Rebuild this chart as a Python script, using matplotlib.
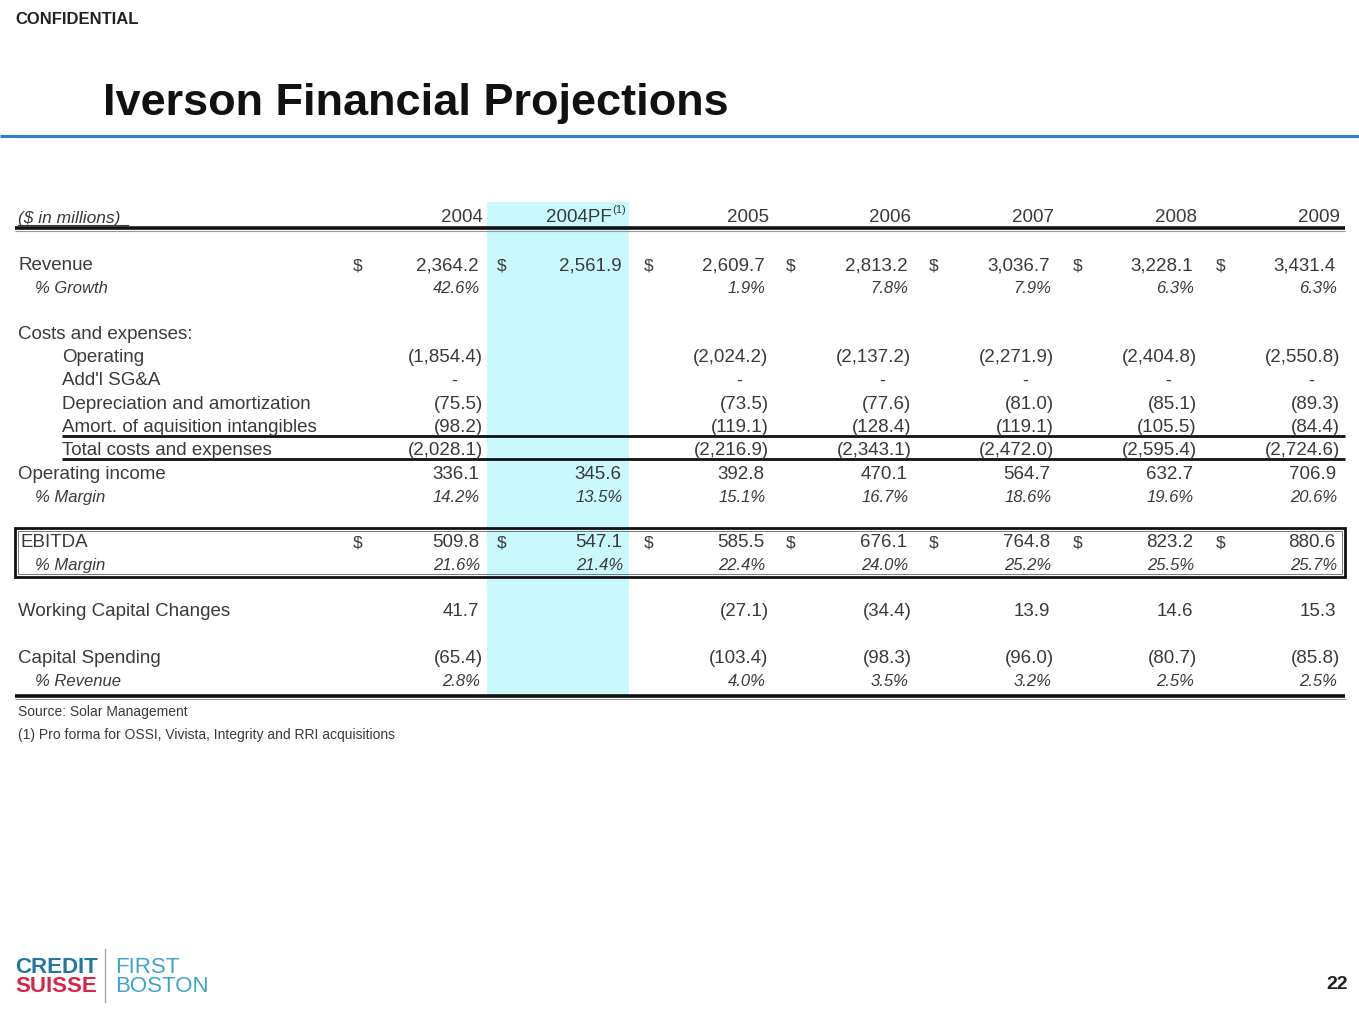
import matplotlib.pyplot as plt
from matplotlib.patches import Rectangle

plt.rcParams['font.family'] = ['Liberation Sans', 'DejaVu Sans']

# data ($ in millions), columns 2004 .. 2009
years = ["2004", "2004PF", "2005", "2006", "2007", "2008", "2009"]
revenue = [2364.2, 2561.9, 2609.7, 2813.2, 3036.7, 3228.1, 3431.4]
growth = [42.6, None, 1.9, 7.8, 7.9, 6.3, 6.3]
operating = [-1854.4, None, -2024.2, -2137.2, -2271.9, -2404.8, -2550.8]
addl_sga = [0, None, 0, 0, 0, 0, 0]
depreciation = [-75.5, None, -73.5, -77.6, -81.0, -85.1, -89.3]
amort = [-98.2, None, -119.1, -128.4, -119.1, -105.5, -84.4]
total_costs = [-2028.1, None, -2216.9, -2343.1, -2472.0, -2595.4, -2724.6]
op_income = [336.1, 345.6, 392.8, 470.1, 564.7, 632.7, 706.9]
op_margin = [14.2, 13.5, 15.1, 16.7, 18.6, 19.6, 20.6]
ebitda = [509.8, 547.1, 585.5, 676.1, 764.8, 823.2, 880.6]
ebitda_margin = [21.6, 21.4, 22.4, 24.0, 25.2, 25.5, 25.7]
working_cap = [41.7, None, -27.1, -34.4, 13.9, 14.6, 15.3]
capex = [-65.4, None, -103.4, -98.3, -96.0, -80.7, -85.8]
capex_pct = [2.8, None, 4.0, 3.5, 3.2, 2.5, 2.5]

TXT = '#3a3a3a'
DY = 2  # text sits a bit low in the original

fig = plt.figure(figsize=(13.59, 10.20), dpi=100)
ax = fig.add_axes([0, 0, 1, 1])
ax.set_xlim(0, 1359)
ax.set_ylim(1020, 0)
ax.axis('off')

col_x = [483 + 142.8 * i for i in range(len(years))]
dollar_x = [353, 497, 644, 786, 929, 1073, 1216]


def fmt(v):
    if v is None:
        return ''
    if v == 0:
        return '-'
    if v < 0:
        return '({:,.1f})'.format(abs(v))
    return '{:,.1f}'.format(v)


def value_row(y, vals, dollars=False):
    y = y + DY
    for i, v in enumerate(vals):
        s = fmt(v)
        if s == '':
            continue
        if s == '-':
            ax.text(col_x[i] - 29, y, s, ha='center', va='center', fontsize=13, color=TXT)
            continue
        x = col_x[i] if v < 0 else col_x[i] - 4
        ax.text(x, y, s, ha='right', va='center', fontsize=13.5, color=TXT)
    if dollars:
        for dx in dollar_x:
            ax.text(dx, y, '$', ha='left', va='center', fontsize=12.5, color=TXT)


def pct_row(y, vals):
    for i, v in enumerate(vals):
        if v is None:
            continue
        ax.text(col_x[i] - 3, y + DY, '{:.1f}%'.format(v), ha='right', va='center',
                fontsize=12, style='italic', color=TXT)


def label(y, s, x=18, italic=False, size=13.5):
    ax.text(x, y + DY, s, ha='left', va='center', fontsize=size, color=TXT,
            style='italic' if italic else 'normal')


# header / title
ax.text(15, 19, 'CONFIDENTIAL', ha='left', va='center', fontsize=12, fontweight='bold', color='#222222')
ax.text(103, 104, 'Iverson Financial Projections', ha='left', va='center', fontsize=32.5,
        fontweight='bold', color='#111111')
ax.plot([0, 1359], [137, 137], color='#2a7fd0', lw=2.2, solid_capstyle='butt')

# pro forma highlight column
ax.add_patch(Rectangle((487, 203), 142, 494, facecolor='#c9f9fc', edgecolor='none', zorder=0))

# column headers
ax.text(18, 216 + DY, '($ in millions)', ha='left', va='center', fontsize=12.5, style='italic', color=TXT)
ax.plot([18, 128], [226, 226], color=TXT, lw=0.8)
for i, yr in enumerate(years):
    if yr == '2004PF':
        ax.text(col_x[i] - 14, 216 + DY, yr, ha='right', va='center', fontsize=13.5, color=TXT)
        ax.text(col_x[i] - 14, 210, '(1)', ha='left', va='center', fontsize=8, color=TXT)
    else:
        ax.text(col_x[i], 216 + DY, yr, ha='right', va='center', fontsize=13.5, color=TXT)
ax.plot([15, 1345], [229, 229], color='#111111', lw=2.6, solid_capstyle='butt')
ax.plot([15, 1345], [232, 232], color='#999999', lw=0.8, solid_capstyle='butt')

# rows
label(264, 'Revenue')
value_row(264, revenue, dollars=True)
label(287, '% Growth', x=35, italic=True, size=12)
pct_row(287, growth)

label(333, 'Costs and expenses:')
label(356, 'Operating', x=62)
value_row(356, operating)
label(379, "Add'l SG&A", x=62)
value_row(379, addl_sga)
label(403, 'Depreciation and amortization', x=62)
value_row(403, depreciation)
label(426, 'Amort. of aquisition intangibles', x=62)
value_row(426, amort)
ax.plot([62, 1345], [437, 437], color='#111111', lw=2, solid_capstyle='butt')
label(449, 'Total costs and expenses', x=62)
value_row(449, total_costs)
ax.plot([62, 1345], [460, 460], color='#111111', lw=2, solid_capstyle='butt')

label(473, 'Operating income')
value_row(473, op_income)
label(496, '% Margin', x=35, italic=True, size=12)
pct_row(496, op_margin)

# EBITDA box
ax.add_patch(Rectangle((15, 529), 1330, 49, facecolor='none', edgecolor='#111111', lw=2))
ax.add_patch(Rectangle((18, 532), 1324, 43, facecolor='none', edgecolor='#777777', lw=0.7))
label(541, 'EBITDA', x=20)
value_row(541, ebitda, dollars=True)
label(564, '% Margin', x=35, italic=True, size=12)
pct_row(564, ebitda_margin)

label(610, 'Working Capital Changes')
value_row(610, working_cap)
label(657, 'Capital Spending')
value_row(657, capex)
label(680, '% Revenue', x=35, italic=True, size=12)
pct_row(680, capex_pct)
ax.plot([15, 1345], [697, 697], color='#111111', lw=2.6, solid_capstyle='butt')
ax.plot([15, 1345], [700, 700], color='#999999', lw=0.8, solid_capstyle='butt')

# footnotes
ax.text(18, 712, 'Source: Solar Management', ha='left', va='center', fontsize=10, color=TXT)
ax.text(18, 735, '(1) Pro forma for OSSI, Vivista, Integrity and RRI acquisitions', ha='left',
        va='center', fontsize=10, color=TXT)

# logo
ax.text(15, 968, 'CREDIT', ha='left', va='center', fontsize=16, fontweight='bold', color='#1f78a0')
ax.text(15, 987, 'SUISSE', ha='left', va='center', fontsize=16, fontweight='bold', color='#d4274a')
ax.plot([105, 105], [950, 1003], color='#aaaaaa', lw=1)
ax.text(115, 968, 'FIRST', ha='left', va='center', fontsize=16, color='#3fa3cf')
ax.text(115, 987, 'BOSTON', ha='left', va='center', fontsize=16, color='#3fa3cf')

ax.text(1348, 985, '22', ha='right', va='center', fontsize=14, fontweight='bold', color='#222222')

fig.savefig('out.png', dpi=100)
